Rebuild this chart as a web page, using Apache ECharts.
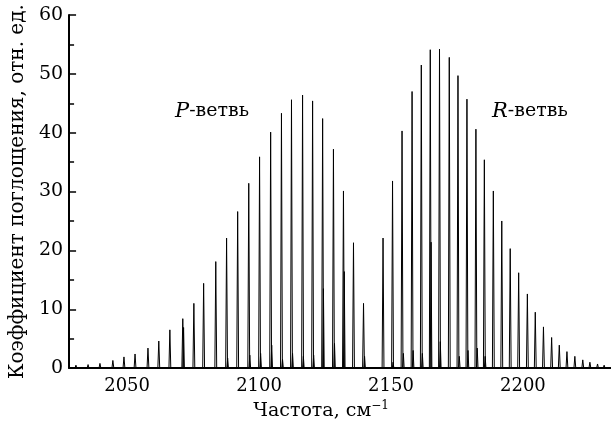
<!DOCTYPE html>
<html lang="ru">
<head>
	<meta charset="UTF-8">
	<script src="https://cdn.jsdelivr.net/npm/echarts@6/dist/echarts.min.js"></script>
	<style>
		body{margin:0;background:#fff;}
	</style>
</head>
<body>
<div id="spectrum" style="width: 611px; height: 426px;"></div>
<script>
  // P-ветвь: частоты линий (см-1) и их высоты
  var pFreq=[2030.6,2035.2,2039.7,2044.6,2048.8,2053.0,2057.9,2062.0,2066.2,2071.1,2075.3,2079.0,2083.6,2087.7,2091.9,2096.1,2100.2,2104.4,2108.5,2112.3,2116.5,2120.3,2124.1,2128.2,2132.0,2135.8,2139.6];
  var pHeight=[0.5,0.6,0.8,1.3,1.9,2.4,3.4,4.6,6.5,8.4,11.0,14.4,18.1,22.1,26.6,31.4,35.9,40.1,43.3,45.6,46.4,45.4,42.4,37.2,30.1,21.3,11.0];
  // R-ветвь
  var rFreq=[2147.0,2150.6,2154.2,2158.0,2161.5,2164.9,2168.4,2172.1,2175.4,2178.8,2182.2,2185.4,2188.8,2192.0,2195.2,2198.4,2201.7,2204.7,2207.8,2210.9,2213.8,2216.7,2219.7,2222.7,2225.4,2228.3,2230.8];
  var rHeight=[22.1,31.8,40.3,47.0,51.5,54.1,54.2,52.8,49.7,45.7,40.6,35.4,30.1,25.0,20.3,16.2,12.6,9.5,7.0,5.2,3.9,2.8,2.0,1.4,1.0,0.7,0.5];
  // слабые линии у основания
  var satFreq=[2071.4,2088.1,2096.5,2100.6,2104.8,2108.9,2112.7,2116.8,2120.7,2124.4,2128.6,2132.3,2140.0,2150.8,2154.7,2158.4,2161.9,2165.2,2168.7,2175.9,2179.2,2182.7,2185.7];
  var satHeight=[6.9,1.7,2.2,2.5,3.9,1.5,2.5,2.0,2.2,13.5,4.2,16.4,2.0,1.0,2.5,3.0,2.5,21.4,4.5,2.0,3.0,3.4,2.0];
  var xTicks=[2050,2100,2150,2200];
  var yTicks=[0,10,20,30,40,50,60];

  var font='DejaVu Serif';

  function spikes(freq,height,w){
    var out=[];
    for(var i=0;i<freq.length;i++){
      out.push([freq[i]-w,0]);
      out.push([freq[i],height[i]]);
      out.push([freq[i]+w,0]);
    }
    return out;
  }

  var chart=echarts.init(document.getElementById('spectrum'));
  var option={
    animation:false,
    grid:{left:68,right:0,top:15,bottom:56},
    xAxis:{
      type:'value',
      min:2028.0,
      max:2233.4,
      name:'{m|Частота, см}{s|−1}',
      nameLocation:'middle',
      nameGap:26,
      nameTextStyle:{
        padding:[0,38,0,0],
        rich:{
          m:{fontFamily:font,fontSize:19,color:'#000',lineHeight:23},
          s:{fontFamily:font,fontSize:12,color:'#000',verticalAlign:'top',lineHeight:12}
        }
      },
      axisLine:{lineStyle:{color:'#000',width:2}},
      axisTick:{show:false},
      splitLine:{show:false},
      axisLabel:{
        customValues:xTicks,
        margin:9,
        color:'#000',
        fontFamily:font,
        fontSize:18,
        formatter:function(v){return String(v);}
      }
    },
    yAxis:{
      type:'value',
      min:0,
      max:60,
      interval:10,
      name:'Коэффициент поглощения, отн. ед.',
      nameLocation:'middle',
      nameGap:40,
      nameTextStyle:{fontFamily:font,fontSize:20,color:'#000'},
      axisLine:{show:true,lineStyle:{color:'#000',width:2}},
      axisTick:{show:true,inside:true,length:7,lineStyle:{color:'#000',width:1.5}},
      minorTick:{show:true,splitNumber:2,length:5,lineStyle:{color:'#000',width:1.5}},
      splitLine:{show:false},
      axisLabel:{
        customValues:yTicks,
        margin:6,
        color:'#000',
        fontFamily:font,
        fontSize:19
      }
    },
    graphic:[
      {
        type:'text',left:175,top:101,
        style:{
          text:'{i|P}{n|-ветвь}',
          rich:{
            i:{fontFamily:font,fontStyle:'italic',fontSize:21,fill:'#000'},
            n:{fontFamily:font,fontSize:19,fill:'#000'}
          }
        }
      },
      {
        type:'text',left:492,top:101,
        style:{
          text:'{i|R}{n|-ветвь}',
          rich:{
            i:{fontFamily:font,fontStyle:'italic',fontSize:21,fill:'#000'},
            n:{fontFamily:font,fontSize:19,fill:'#000'}
          }
        }
      }
    ],
    series:[
      {
        name:'P',
        type:'line',
        data:spikes(pFreq,pHeight,0.35),
        symbol:'none',
        lineStyle:{color:'#000',width:1}
      },
      {
        name:'R',
        type:'line',
        data:spikes(rFreq,rHeight,0.35),
        symbol:'none',
        lineStyle:{color:'#000',width:1}
      },
      {
        name:'weak',
        type:'line',
        data:spikes(satFreq,satHeight,0.3),
        symbol:'none',
        lineStyle:{color:'#000',width:1}
      }
    ]
  };
  chart.setOption(option);
</script>
</body>
</html>
